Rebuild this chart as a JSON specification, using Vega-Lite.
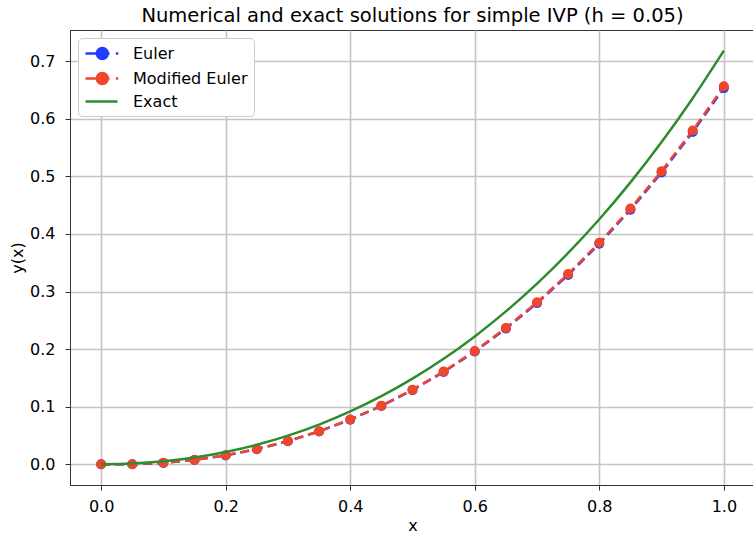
{
  "$schema": "https://vega.github.io/schema/vega-lite/v6.json",
  "width": 685,
  "height": 455,
  "autosize": {"type": "none"},
  "padding": {"left": 70, "top": 30, "right": 0, "bottom": 50},
  "background": "white",
  "config": {
    "font": "DejaVu Sans",
    "view": {"stroke": "#333333", "strokeWidth": 1},
    "axis": {
      "labelFont": "DejaVu Sans",
      "titleFont": "DejaVu Sans",
      "labelFontSize": 16,
      "titleFontSize": 16,
      "titleFontWeight": "normal",
      "labelColor": "#000000",
      "titleColor": "#000000",
      "gridColor": "#c4c4c4",
      "gridWidth": 1.6,
      "domainColor": "#333333",
      "tickColor": "#333333",
      "tickSize": 5
    }
  },
  "title": {
    "text": "Numerical and exact solutions for simple IVP (h = 0.05)",
    "fontSize": 19.5,
    "font": "DejaVu Sans",
    "fontWeight": "normal",
    "color": "#000000",
    "offset": 4
  },
  "data": {
    "values": [
      {"x": 0.0, "y": 0.0, "series": "Euler"},
      {"x": 0.05, "y": 0.0, "series": "Euler"},
      {"x": 0.1, "y": 0.0025, "series": "Euler"},
      {"x": 0.15, "y": 0.007625, "series": "Euler"},
      {"x": 0.2, "y": 0.015506, "series": "Euler"},
      {"x": 0.25, "y": 0.026282, "series": "Euler"},
      {"x": 0.3, "y": 0.040096, "series": "Euler"},
      {"x": 0.35, "y": 0.0571, "series": "Euler"},
      {"x": 0.4, "y": 0.077455, "series": "Euler"},
      {"x": 0.45, "y": 0.101328, "series": "Euler"},
      {"x": 0.5, "y": 0.128895, "series": "Euler"},
      {"x": 0.55, "y": 0.160339, "series": "Euler"},
      {"x": 0.6, "y": 0.195856, "series": "Euler"},
      {"x": 0.65, "y": 0.235649, "series": "Euler"},
      {"x": 0.7, "y": 0.279932, "series": "Euler"},
      {"x": 0.75, "y": 0.328928, "series": "Euler"},
      {"x": 0.8, "y": 0.382875, "series": "Euler"},
      {"x": 0.85, "y": 0.442018, "series": "Euler"},
      {"x": 0.9, "y": 0.506619, "series": "Euler"},
      {"x": 0.95, "y": 0.57695, "series": "Euler"},
      {"x": 1.0, "y": 0.653298, "series": "Euler"},
      {"x": 0.0, "y": 0.0, "series": "Modified Euler"},
      {"x": 0.05, "y": 0.0001, "series": "Modified Euler"},
      {"x": 0.1, "y": 0.0026, "series": "Modified Euler"},
      {"x": 0.15, "y": 0.0077, "series": "Modified Euler"},
      {"x": 0.2, "y": 0.0157, "series": "Modified Euler"},
      {"x": 0.25, "y": 0.0265, "series": "Modified Euler"},
      {"x": 0.3, "y": 0.0404, "series": "Modified Euler"},
      {"x": 0.35, "y": 0.0575, "series": "Modified Euler"},
      {"x": 0.4, "y": 0.0779, "series": "Modified Euler"},
      {"x": 0.45, "y": 0.1019, "series": "Modified Euler"},
      {"x": 0.5, "y": 0.1296, "series": "Modified Euler"},
      {"x": 0.55, "y": 0.1612, "series": "Modified Euler"},
      {"x": 0.6, "y": 0.1969, "series": "Modified Euler"},
      {"x": 0.65, "y": 0.2369, "series": "Modified Euler"},
      {"x": 0.7, "y": 0.2814, "series": "Modified Euler"},
      {"x": 0.75, "y": 0.3306, "series": "Modified Euler"},
      {"x": 0.8, "y": 0.3848, "series": "Modified Euler"},
      {"x": 0.85, "y": 0.4442, "series": "Modified Euler"},
      {"x": 0.9, "y": 0.5091, "series": "Modified Euler"},
      {"x": 0.95, "y": 0.5798, "series": "Modified Euler"},
      {"x": 1.0, "y": 0.6565, "series": "Modified Euler"},
      {"x": 0.0, "y": 0.0, "series": "Exact"},
      {"x": 0.05, "y": 0.001271, "series": "Exact"},
      {"x": 0.1, "y": 0.005171, "series": "Exact"},
      {"x": 0.15, "y": 0.011834, "series": "Exact"},
      {"x": 0.2, "y": 0.021403, "series": "Exact"},
      {"x": 0.25, "y": 0.034025, "series": "Exact"},
      {"x": 0.3, "y": 0.049859, "series": "Exact"},
      {"x": 0.35, "y": 0.069068, "series": "Exact"},
      {"x": 0.4, "y": 0.091825, "series": "Exact"},
      {"x": 0.45, "y": 0.118312, "series": "Exact"},
      {"x": 0.5, "y": 0.148721, "series": "Exact"},
      {"x": 0.55, "y": 0.183253, "series": "Exact"},
      {"x": 0.6, "y": 0.222119, "series": "Exact"},
      {"x": 0.65, "y": 0.265541, "series": "Exact"},
      {"x": 0.7, "y": 0.313753, "series": "Exact"},
      {"x": 0.75, "y": 0.367, "series": "Exact"},
      {"x": 0.8, "y": 0.425541, "series": "Exact"},
      {"x": 0.85, "y": 0.489647, "series": "Exact"},
      {"x": 0.9, "y": 0.559603, "series": "Exact"},
      {"x": 0.95, "y": 0.63571, "series": "Exact"},
      {"x": 1.0, "y": 0.718282, "series": "Exact"}
    ]
  },
  "encoding": {
    "x": {
      "field": "x",
      "type": "quantitative",
      "scale": {"domain": [-0.05, 1.05], "nice": false, "zero": false},
      "axis": {"values": [0, 0.2, 0.4, 0.6, 0.8, 1.0], "format": ".1f", "title": "x", "labelPadding": 8, "titlePadding": 3}
    },
    "y": {
      "field": "y",
      "type": "quantitative",
      "scale": {"domain": [-0.0359, 0.7542], "nice": false, "zero": false},
      "axis": {"values": [0, 0.1, 0.2, 0.3, 0.4, 0.5, 0.6, 0.7], "format": ".1f", "title": "y(x)", "labelPadding": 10, "titlePadding": 4}
    },
    "color": {
      "field": "series",
      "type": "nominal",
      "scale": {
        "domain": ["Euler", "Modified Euler", "Exact"],
        "range": ["#1f3cff", "#f0462a", "#2e8b2e"]
      },
      "legend": {
        "title": null,
        "orient": "none",
        "legendX": 8,
        "legendY": 8,
        "direction": "vertical",
        "fillColor": "white",
        "strokeColor": "#cccccc",
        "cornerRadius": 4,
        "padding": 6,
        "labelFont": "DejaVu Sans",
        "labelFontSize": 16,
        "labelColor": "#000000",
        "labelOffset": 30,
        "symbolSize": 256,
        "symbolStrokeWidth": 2.5,
        "rowPadding": 2,
        "encode": {
          "symbols": {
            "update": {
              "shape": {"signal": "datum.value === 'Exact' ? 'M-1,0H3' : 'M-1,0H2M2.8,0H3.1M0.41,0A0.69,0.69 0 1,0 1.79,0A0.69,0.69 0 1,0 0.41,0Z'"},
              "stroke": {"signal": "scale('color', datum.value)"},
              "fill": {"signal": "datum.value === 'Exact' ? 'transparent' : scale('color', datum.value)"},
              "strokeWidth": {"value": 2.5},
              "opacity": {"value": 1}
            }
          }
        }
      }
    }
  },
  "layer": [
    {
      "transform": [{"filter": "datum.series === 'Euler'"}],
      "mark": {"type": "line", "strokeDash": [9, 5], "strokeWidth": 2.5}
    },
    {
      "transform": [{"filter": "datum.series === 'Euler'"}],
      "mark": {"type": "point", "filled": true, "size": 100, "opacity": 1}
    },
    {
      "transform": [{"filter": "datum.series === 'Modified Euler'"}],
      "mark": {"type": "line", "strokeDash": [9, 5], "strokeWidth": 2.5}
    },
    {
      "transform": [{"filter": "datum.series === 'Modified Euler'"}],
      "mark": {"type": "point", "filled": true, "size": 100, "opacity": 1}
    },
    {
      "transform": [{"filter": "datum.series === 'Exact'"}],
      "mark": {"type": "line", "strokeWidth": 2.5, "interpolate": "monotone"}
    }
  ]
}
